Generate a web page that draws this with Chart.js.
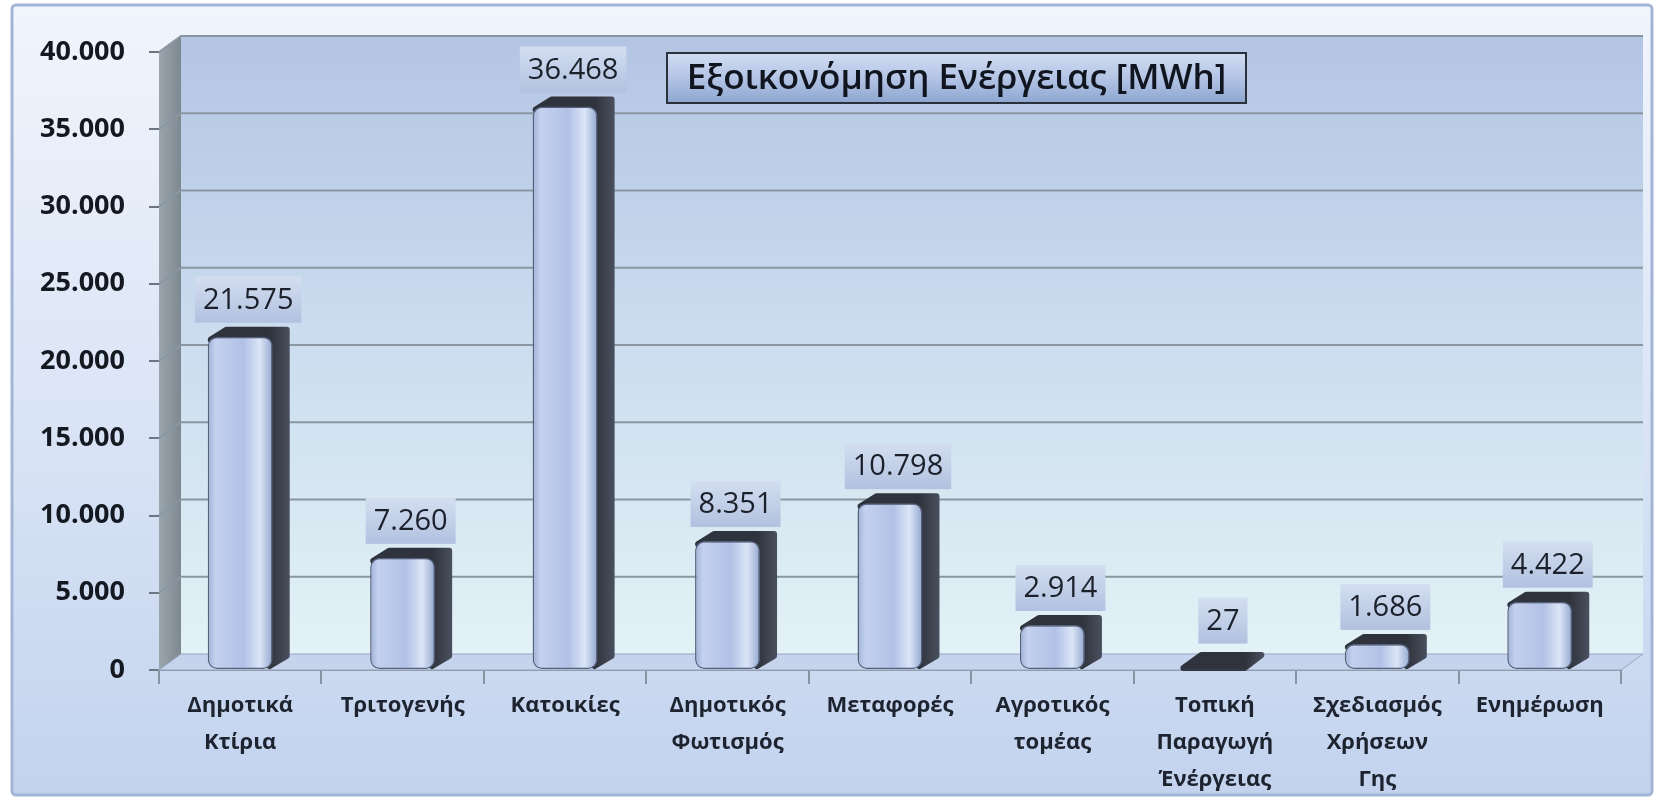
<!DOCTYPE html>
<html>
<head>
<meta charset="utf-8">
<script src="https://cdn.jsdelivr.net/npm/chart.js@4"></script>
<style>
  html, body { margin: 0; padding: 0; background: #fff; }
  #wrap { width: 1659px; height: 799px; }
</style>
</head>
<body>
<div id="wrap"><canvas id="bars" width="1659" height="799"></canvas></div>
<script>
// data
const categories = [
  ['Δημοτικά', 'Κτίρια'],
  ['Τριτογενής'],
  ['Κατοικίες'],
  ['Δημοτικός', 'Φωτισμός'],
  ['Μεταφορές'],
  ['Αγροτικός', 'τομέας'],
  ['Τοπική', 'Παραγωγή', 'Ένέργειας'],
  ['Σχεδιασμός', 'Χρήσεων', 'Γης'],
  ['Ενημέρωση']
];
const savings = [21575, 7260, 36468, 8351, 10798, 2914, 27, 1686, 4422];
const yTickLabels = ['0', '5.000', '10.000', '15.000', '20.000', '25.000', '30.000', '35.000', '40.000'];
const chartTitle = 'Εξοικονόμηση Ενέργειας [MWh]';

const FONT = '"Open Sans", "Noto Sans", sans-serif';
const WALL_DX = 22, WALL_DY = 16;   // depth of the back wall
const BAR_DX = 16, BAR_DY = 10;     // depth of the bars

function fmt(v) {
  return String(v).replace(/\B(?=(\d{3})+(?!\d))/g, '.');
}

// outer frame + background
const framePlugin = {
  id: 'frame',
  beforeDraw(chart) {
    const ctx = chart.ctx;
    ctx.save();
    ctx.fillStyle = '#ffffff';
    ctx.fillRect(0, 0, chart.width, chart.height);
    const g = ctx.createLinearGradient(0, 5, 0, 795);
    g.addColorStop(0, '#f1f5fc');
    g.addColorStop(0.5, '#dbe5f6');
    g.addColorStop(1, '#c3d3ee');
    ctx.fillStyle = g;
    ctx.beginPath();
    ctx.roundRect(12, 5, 1640, 790, 4);
    ctx.fill();
    ctx.lineWidth = 3;
    ctx.strokeStyle = '#a3b5d6';
    ctx.stroke();
    ctx.restore();
  }
};

// back wall, side wall, floor and gridlines drawn from the scales
const wallPlugin = {
  id: 'wall',
  beforeDatasetsDraw(chart) {
    const ctx = chart.ctx;
    const { left, right, top, bottom } = chart.chartArea;
    const y = chart.scales.y;
    ctx.save();
    // back wall
    const bg = ctx.createLinearGradient(0, top - WALL_DY, 0, bottom - WALL_DY);
    bg.addColorStop(0, '#b3c5e3');
    bg.addColorStop(0.45, '#c9dbee');
    bg.addColorStop(1, '#e2f2f6');
    ctx.fillStyle = bg;
    ctx.fillRect(left + WALL_DX, top - WALL_DY, right - left, bottom - top);
    // left wall
    const lg = ctx.createLinearGradient(left, 0, left + WALL_DX, 0);
    lg.addColorStop(0, '#9aa5ae');
    lg.addColorStop(1, '#7d8891');
    ctx.fillStyle = lg;
    ctx.beginPath();
    ctx.moveTo(left, top);
    ctx.lineTo(left + WALL_DX, top - WALL_DY);
    ctx.lineTo(left + WALL_DX, bottom - WALL_DY);
    ctx.lineTo(left, bottom);
    ctx.closePath();
    ctx.fill();
    // floor
    ctx.fillStyle = '#c6d3ec';
    ctx.beginPath();
    ctx.moveTo(left, bottom);
    ctx.lineTo(left + WALL_DX, bottom - WALL_DY);
    ctx.lineTo(right + WALL_DX, bottom - WALL_DY);
    ctx.lineTo(right, bottom);
    ctx.closePath();
    ctx.fill();
    ctx.strokeStyle = '#97a5bd';
    ctx.lineWidth = 1;
    ctx.stroke();
    // gridlines on the back wall and the side wall
    ctx.strokeStyle = '#8b96a3';
    ctx.lineWidth = 2;
    y.ticks.forEach(t => {
      if (t.value === 0) return;
      const py = y.getPixelForValue(t.value);
      ctx.beginPath();
      ctx.moveTo(left, py);
      ctx.lineTo(left + WALL_DX, py - WALL_DY);
      ctx.lineTo(right + WALL_DX, py - WALL_DY);
      ctx.stroke();
    });
    ctx.restore();
  }
};

// dark side and top of each bar
const depthPlugin = {
  id: 'depth',
  beforeDatasetsDraw(chart) {
    const ctx = chart.ctx;
    const meta = chart.getDatasetMeta(0);
    ctx.save();
    meta.data.forEach(el => {
      const { x, y, base, width } = el.getProps(['x', 'y', 'base', 'width'], true);
      const flat = base - y < 4;
      const dy = flat ? BAR_DY + 4 : BAR_DY;
      const l = x - width / 2 + 3, r = x + width / 2 - 3;
      const g = ctx.createLinearGradient(r, 0, r + BAR_DX + 4, 0);
      g.addColorStop(0, '#2e333d');
      g.addColorStop(1, '#4a505e');
      ctx.fillStyle = g;
      ctx.strokeStyle = g;
      ctx.lineWidth = 6;
      ctx.lineJoin = 'round';
      ctx.beginPath();
      if (flat) {
        ctx.moveTo(l - 2, base - 1);
        ctx.lineTo(l + BAR_DX, base - dy);
        ctx.lineTo(r + BAR_DX + 1, base - dy);
        ctx.lineTo(r, base - 1);
      } else {
        ctx.moveTo(l, y + 3);
        ctx.lineTo(l + BAR_DX, y - dy + 3);
        ctx.lineTo(r + BAR_DX + 1, y - dy + 3);
        ctx.lineTo(r + BAR_DX + 1, base - dy - 3);
        ctx.lineTo(r, base - 3);
        ctx.lineTo(r, y + 3);
      }
      ctx.closePath();
      ctx.fill();
      ctx.stroke();
    });
    ctx.restore();
  }
};

// value boxes above the bars
const valuePlugin = {
  id: 'values',
  afterDatasetsDraw(chart) {
    const ctx = chart.ctx;
    const meta = chart.getDatasetMeta(0);
    ctx.save();
    ctx.font = '29px ' + FONT;
    ctx.textAlign = 'center';
    ctx.textBaseline = 'middle';
    meta.data.forEach((el, i) => {
      const txt = fmt(savings[i]);
      const w = ctx.measureText(txt).width + 16;
      const h = 46;
      const cx = el.x + BAR_DX / 2;
      const by = (savings[i] < 100 ? el.y - 26 : el.y - BAR_DY - 4);
      const g = ctx.createLinearGradient(0, by - h, 0, by);
      g.addColorStop(0, '#d3def0');
      g.addColorStop(1, '#b1c1df');
      ctx.fillStyle = g;
      ctx.fillRect(cx - w / 2, by - h, w, h);
      ctx.fillStyle = '#1b202b';
      ctx.fillText(txt, cx, by - h / 2 + 1);
    });
    ctx.restore();
  }
};

// title box inside the plot
const titlePlugin = {
  id: 'titleBox',
  afterDraw(chart) {
    const ctx = chart.ctx;
    const x = 667, y = 53, w = 579, h = 50;
    ctx.save();
    const g = ctx.createLinearGradient(0, y, 0, y + h);
    g.addColorStop(0, '#d2ddf2');
    g.addColorStop(0.5, '#b3c4e5');
    g.addColorStop(1, '#8ea6d0');
    ctx.fillStyle = g;
    ctx.fillRect(x, y, w, h);
    ctx.lineWidth = 2;
    ctx.strokeStyle = '#2a303c';
    ctx.strokeRect(x, y, w, h);
    ctx.font = '600 35px ' + FONT;
    ctx.fillStyle = '#111520';
    ctx.textAlign = 'center';
    ctx.textBaseline = 'middle';
    ctx.fillText(chartTitle, x + w / 2, y + h / 2 + 1, w - 16);
    ctx.restore();
  }
};

function faceColor(context) {
  const chart = context.chart;
  if (!chart.chartArea) return '#b5c4e8';
  const xs = chart.scales.x;
  const cx = xs.getPixelForValue(context.dataIndex);
  const w = (xs.width / categories.length) * 0.4;
  const g = chart.ctx.createLinearGradient(cx - w / 2, 0, cx + w / 2, 0);
  g.addColorStop(0, '#9eb1d8');
  g.addColorStop(0.12, '#c4d1ee');
  g.addColorStop(0.55, '#b1c1e6');
  g.addColorStop(0.8, '#dce5f7');
  g.addColorStop(1, '#93a7d0');
  return g;
}

const config = {
  type: 'bar',
  data: {
    labels: categories,
    datasets: [{
      data: savings,
      backgroundColor: faceColor,
      borderColor: '#55607a',
      borderWidth: 1.5,
      borderRadius: 9,
      borderSkipped: false,
      categoryPercentage: 1,
      barPercentage: 0.4
    }]
  },
  options: {
    responsive: false,
    animation: false,
    layout: { padding: { left: 0, right: 38, top: 52, bottom: 0 } },
    plugins: {
      legend: { display: false },
      tooltip: { enabled: false }
    },
    scales: {
      x: {
        offset: true,
        grid: { offset: true, drawOnChartArea: false, drawTicks: true, tickLength: 14, color: '#8893a2', lineWidth: 2 },
        border: { display: true, color: '#8893a2', width: 2 },
        ticks: {
          color: '#1e2330',
          font: { family: FONT, size: 22, weight: 'bold', lineHeight: '37px' },
          padding: 3,
          maxRotation: 0,
          autoSkip: false
        },
        afterFit(scale) { scale.height = 129; }
      },
      y: {
        min: 0,
        max: 40000,
        grid: { drawOnChartArea: false, drawTicks: true, tickLength: 10, color: '#6c7682', lineWidth: 2 },
        border: { display: false },
        ticks: {
          stepSize: 5000,
          color: '#141821',
          padding: 24,
          font: { family: FONT, size: 27, weight: 'bold' },
          callback: (v, i) => yTickLabels[i]
        },
        afterFit(scale) { scale.width = 159; }
      }
    }
  },
  plugins: [framePlugin, wallPlugin, depthPlugin, valuePlugin, titlePlugin]
};

const barsCtx = document.getElementById('bars');
window.myBars = new Chart(barsCtx, config);
</script>
</body>
</html>
